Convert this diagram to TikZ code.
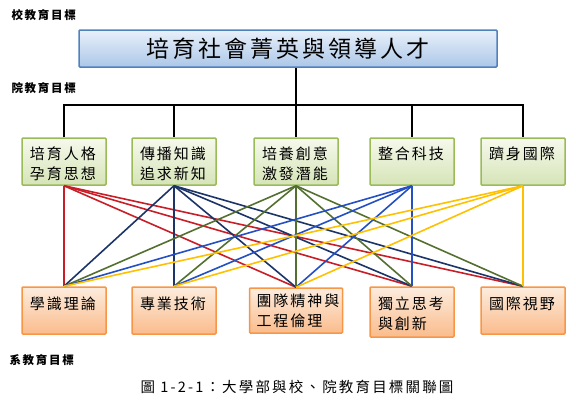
\documentclass[tikz,border=0pt]{standalone}
\usepackage{fontspec}
\setmainfont{Noto Sans CJK TC}
\newfontfamily\goalfont[LetterSpace=13]{Noto Sans CJK TC}
\newfontfamily\headfont[LetterSpace=15]{Noto Sans CJK TC}
\definecolor{linkred}{RGB}{200,30,40}
\definecolor{linknavy}{RGB}{28,52,104}
\definecolor{linkgreen}{RGB}{84,112,48}
\definecolor{linkblue}{RGB}{36,80,196}
\definecolor{linkyellow}{RGB}{255,192,0}
\definecolor{schoolline}{RGB}{79,129,189}
\definecolor{schooltop}{RGB}{232,240,250}
\definecolor{schoolbot}{RGB}{172,199,232}
\definecolor{collegeline}{RGB}{155,187,89}
\definecolor{collegetop}{RGB}{246,249,236}
\definecolor{collegebot}{RGB}{214,228,183}
\definecolor{deptline}{RGB}{247,150,70}
\definecolor{depttop}{RGB}{253,236,222}
\definecolor{deptbot}{RGB}{250,188,140}
\begin{document}
\begin{tikzpicture}[x=1pt,y=-1pt,
        goalbox/.style={draw, line width=1.5pt, rounded corners=1pt},
        school/.style={goalbox, draw=schoolline, top color=schooltop, bottom color=schoolbot,
            minimum width=418pt, minimum height=37pt, font=\goalfont\fontsize{23}{26}\selectfont},
        college/.style={goalbox, draw=collegeline, top color=collegetop, bottom color=collegebot,
            inner xsep=8pt, inner ysep=8pt, text width=68pt, align=left,
            text height=13pt, text depth=18pt, font=\goalfont\fontsize{15}{20}\selectfont},
        dept/.style={goalbox, draw=deptline, top color=depttop, bottom color=deptbot,
            inner xsep=8pt, inner ysep=8pt, text width=68pt, align=left,
            text height=14pt, text depth=17pt, font=\goalfont\fontsize{15}{20}\selectfont},
        level/.style={anchor=west, font=\headfont\bfseries\fontsize{11.5}{13}\selectfont},
        treeline/.style={line width=1.4pt},
        link/.style={line width=1.6pt}]
    \useasboundingbox (0,0) rectangle (576,400);
    % level headings
    \node [level] (lschool) at (8,15) {校教育目標};
    \node [level] (lcollege) at (8,88) {院教育目標};
    \node [level] (ldept) at (6,360) {系教育目標};
    % goals
    \node [school] (top) at (288,48.5) {培育社會菁英與領導人才};
    \node [college] (m1) at (64,161.5) {培育人格\\孕育思想};
    \node [college] (m2) at (174,161.5) {傳播知識\\追求新知};
    \node [college] (m3) at (296,161.5) {培養創意\\激發潛能};
    \node [college] (m4) at (412,161.5) {整合科技};
    \node [college] (m5) at (523,161.5) {躋身國際};
    \node [dept] (b1) at (64,310.5) {學識理論};
    \node [dept] (b2) at (174,310.5) {專業技術};
    \node [dept, inner xsep=7pt, text width=79pt, text height=10pt, text depth=19pt] (b3) at (296,310.5) {團隊精神與\\工程倫理};
    \node [dept, text depth=20pt] (b4) at (412,312) {獨立思考\\與創新};
    \node [dept] (b5) at (523,310.5) {國際視野};
    % tree from school to college
    \coordinate (bus) at (0,105);
    \draw [treeline] (top.south -| m3.north) -- (m3.north);
    \draw [treeline] (m1.north) |- (bus -| m5.north) -- (m5.north);
    \foreach \m in {m2,m4}
        \draw [treeline] (bus -| \m.north) -- (\m.north);
    % links from college to department
    \foreach \b in {b1,b3,b4,b5}
        \draw [link, linkred] (m1.south) -- (\b.north);
    \foreach \b in {b1,b2,b3,b4,b5}
        \draw [link, linknavy] (m2.south) -- (\b.north);
    \foreach \b in {b1,b2,b3,b4,b5}
        \draw [link, linkgreen] (m3.south) -- (\b.north);
    \foreach \b in {b1,b2,b3,b4}
        \draw [link, linkblue] (m4.south) -- (\b.north);
    \foreach \b in {b1,b2,b3,b5}
        \draw [link, linkyellow] (m5.south) -- (\b.north);
    % caption
    \node [font=\headfont\fontsize{14.5}{16}\selectfont] (caption) at (297,387) {圖 1-2-1：大學部與校、院教育目標關聯圖};
\end{tikzpicture}
\end{document}
